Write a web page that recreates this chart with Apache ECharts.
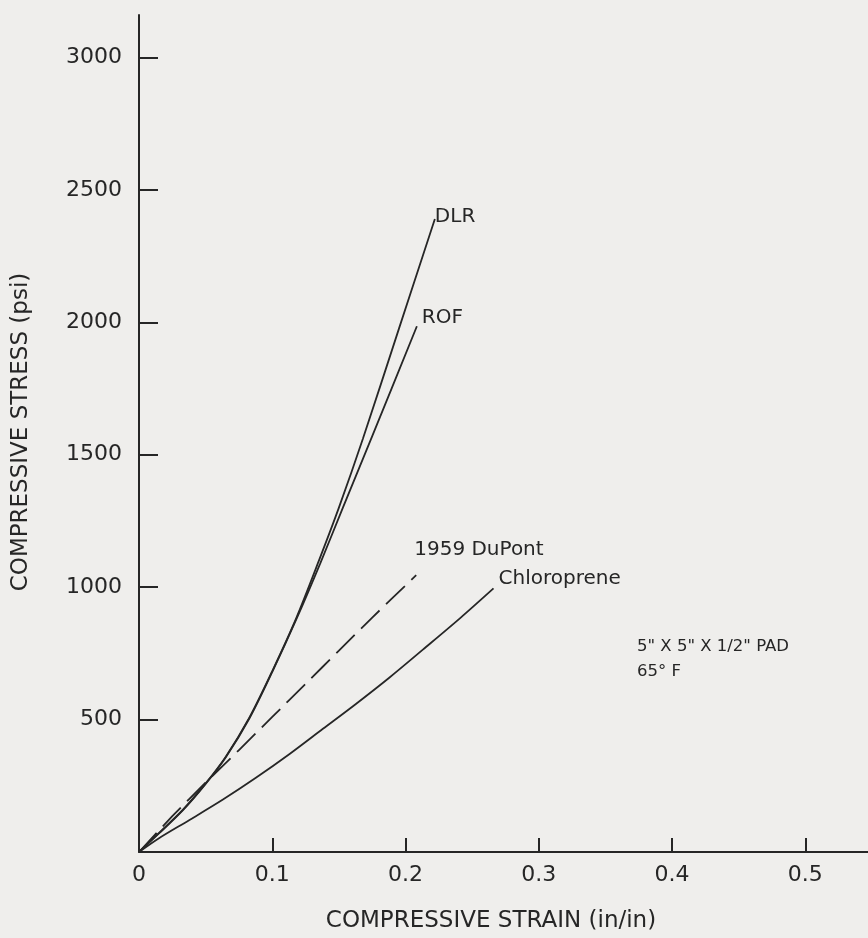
<!DOCTYPE html>
<html>
<head>
<meta charset="utf-8">
<script src="https://cdn.jsdelivr.net/npm/echarts@6/dist/echarts.min.js"></script>
<style>
  html, body { margin: 0; padding: 0; background: #efeeec; }
  #main { width: 868px; height: 938px; }
</style>
</head>
<body>
<div id="main"></div>
<script>
// strain (in/in), stress (psi)
var dlr = [[0, 0], [0.015, 72], [0.033, 160], [0.05, 259], [0.065, 359], [0.083, 509], [0.1, 683],
  [0.118, 883], [0.135, 1100], [0.15, 1300], [0.168, 1560], [0.195, 1975], [0.222, 2390]];
var rof = [[0, 0], [0.015, 70], [0.033, 158], [0.05, 257], [0.065, 357], [0.083, 506], [0.1, 680],
  [0.118, 878], [0.136, 1090], [0.153, 1300], [0.175, 1570], [0.2085, 1985]];
var dupont = [[0, 0], [0.025, 135], [0.05, 262], [0.075, 385], [0.1, 510], [0.125, 635],
  [0.15, 760], [0.175, 885], [0.208, 1045]];
var chloroprene = [[0, 0], [0.015, 52], [0.0376, 120], [0.0627, 197], [0.0877, 280], [0.113, 370],
  [0.138, 465], [0.163, 560], [0.188, 659], [0.213, 764], [0.241, 883], [0.266, 995]];
var xTicks = [0, 0.1, 0.2, 0.3, 0.4, 0.5];
var yTicks = [500, 1000, 1500, 2000, 2500, 3000];

var ink = '#262626';
var font = 'DejaVu Sans';

function curve(name, data, dashed, offset) {
  return {
    name: name,
    type: 'line',
    data: data,
    smooth: 0.3,
    symbol: 'none',
    lineStyle: { color: ink, width: 1.8, type: dashed ? [26, 9] : 'solid' },
    endLabel: {
      show: true,
      formatter: name,
      distance: 0,
      offset: offset,
      color: ink,
      fontFamily: font,
      fontSize: 20
    }
  };
}

var myChart = echarts.init(document.getElementById('main'));
var option = {
  animation: false,
  backgroundColor: '#efeeec',
  grid: { left: 139, right: 0, top: 15, bottom: 86 },
  xAxis: {
    type: 'value',
    min: 0,
    max: 0.547,
    splitLine: { show: false },
    axisLine: { lineStyle: { color: ink, width: 2 } },
    axisTick: { inside: true, length: 14, customValues: xTicks, lineStyle: { color: ink, width: 2 } },
    axisLabel: {
      margin: 12,
      color: ink,
      fontFamily: font,
      fontSize: 22,
      customValues: xTicks,
      formatter: function (v) { return v === 0 ? '0' : v.toFixed(1); }
    }
  },
  yAxis: {
    type: 'value',
    min: 0,
    max: 3160,
    splitLine: { show: false },
    axisLine: { lineStyle: { color: ink, width: 2 } },
    axisTick: { inside: true, length: 19, customValues: yTicks, lineStyle: { color: ink, width: 2 } },
    axisLabel: {
      margin: 17,
      color: ink,
      fontFamily: font,
      fontSize: 22,
      customValues: yTicks,
      formatter: function (v) { return String(v); }
    }
  },
  graphic: [
    {
      type: 'text', x: 491, y: 921,
      style: { text: 'COMPRESSIVE STRAIN (in/in)', fill: ink, font: '23px ' + font,
        textAlign: 'center', textVerticalAlign: 'middle' }
    },
    {
      type: 'text', x: 21, y: 432, rotation: Math.PI / 2,
      style: { text: 'COMPRESSIVE STRESS (psi)', fill: ink, font: '23px ' + font,
        textAlign: 'center', textVerticalAlign: 'middle' }
    },
    {
      type: 'text', x: 637, y: 659,
      style: { text: '5" X 5" X 1/2" PAD\n65° F', fill: ink, font: '16.5px ' + font,
        lineHeight: 25, textVerticalAlign: 'middle' }
    }
  ],
  series: [
    curve('DLR', dlr, false, [0, -2]),
    curve('ROF', rof, false, [5, -8]),
    curve('1959 DuPont', dupont, true, [-2, -25]),
    curve('Chloroprene', chloroprene, false, [5, -10])
  ]
};
myChart.setOption(option);
</script>
</body>
</html>
